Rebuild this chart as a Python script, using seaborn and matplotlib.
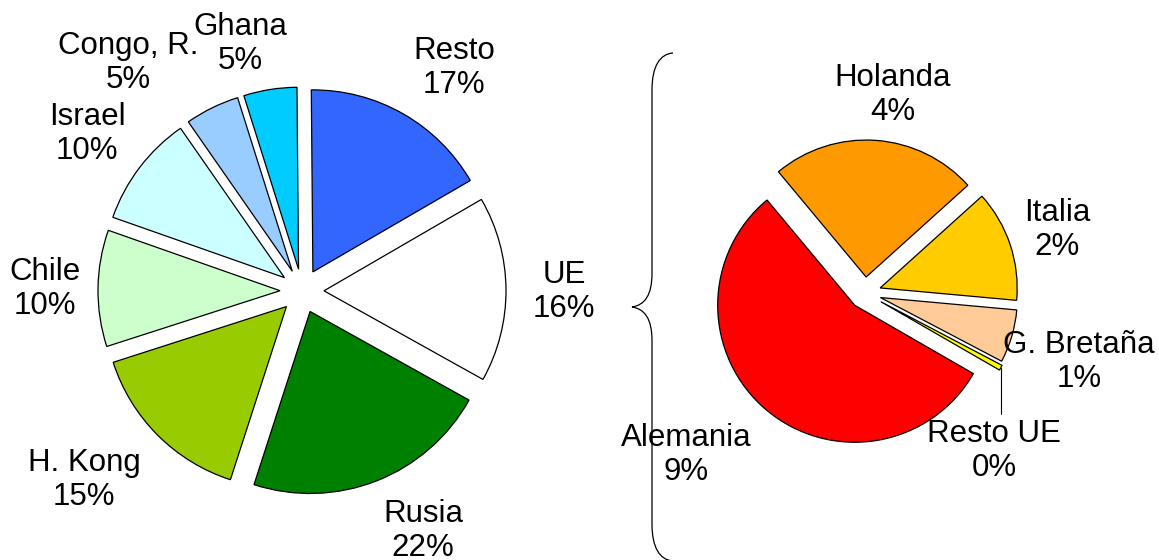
import matplotlib
matplotlib.use("Agg")
import numpy as np
import matplotlib.pyplot as plt
from matplotlib.path import Path
from matplotlib.patches import PathPatch
import seaborn as sns


# destination of exports, share of total (%)
dest_names = ["Resto", "UE", "Rusia", "H. Kong", "Chile", "Israel", "Congo, R.", "Ghana"]
dest_shares = [16.7, 16.4, 21.8, 15.0, 10.3, 9.9, 4.8, 4.7]
dest_colors = ["#3366FF", "#FFFFFF", "#008000", "#99CC00", "#CCFFCC", "#CCFFFF", "#99CCFF", "#00CCFF"]

# breakdown of the UE slice, share of total (%)
eu_names = ["Italia", "Holanda", "Alemania", "Resto UE", "G. Bretaña"]
eu_shares = [2.1, 3.9, 8.9, 0.1, 1.0]
eu_colors = ["#FFCC00", "#FF9900", "#FF0000", "#FFFF00", "#FFCC99"]

W, H = 1159, 560

# label centres, pixels from the top-left corner
dest_label_pos = [(454, 68), (564, 292), (423, 531), (84, 480), (45, 289), (87, 134), (128, 63), (240, 44)]
eu_label_pos = [(1057, 230), (893, 95), (686, 455), (994, 451), (1079, 362)]


def add_labels(ax, names, shares, positions):
    for name, share, (x, y) in zip(names, shares, positions):
        ax.text(x, H - y, f"{name}\n{share:.0f}%", ha="center", va="center",
                multialignment="center", fontsize=22.5, color="black", linespacing=1.2)


sns.set_theme(style="white")
plt.rcParams["font.family"] = ["Liberation Sans", "DejaVu Sans"]

fig = plt.figure(figsize=(W / 100, H / 100), dpi=100)
ax = fig.add_axes([0, 0, 1, 1])

wedge_style = dict(edgecolor="black", linewidth=0.9)

# pie explode is in data units here (axes are in pixels)
ax.pie(dest_shares, colors=dest_colors, explode=[22] * len(dest_shares),
       startangle=90.5, counterclock=False, center=(302, H - 291), radius=182,
       wedgeprops=wedge_style, frame=True)

eu_wedges, _ = ax.pie(eu_shares, colors=eu_colors, explode=[16, 16, 16, 18, 16],
                      startangle=-5.2, counterclock=True, center=(865, H - 293), radius=137,
                      wedgeprops=wedge_style, frame=True)

add_labels(ax, dest_names, dest_shares, dest_label_pos)
add_labels(ax, eu_names, eu_shares, eu_label_pos)

# leader line for the tiny "Resto UE" slice
w = eu_wedges[3]
mid = np.radians((w.theta1 + w.theta2) / 2)
tip_x = w.center[0] + w.r * np.cos(mid)
tip_y = w.center[1] + w.r * np.sin(mid)
ax.plot([tip_x, tip_x], [tip_y, H - 414], color="black", linewidth=0.8)

# curly brace linking UE with its breakdown
brace = [(673, 53), (660, 54), (652, 66), (652, 90),
         (652, 273),
         (652, 295), (645, 305), (632, 307),
         (645, 309), (652, 319), (652, 341),
         (652, 524),
         (652, 548), (660, 560), (673, 561)]
codes = ([Path.MOVETO] + [Path.CURVE4] * 3 + [Path.LINETO] + [Path.CURVE4] * 6
         + [Path.LINETO] + [Path.CURVE4] * 3)
ax.add_patch(PathPatch(Path([(x, H - y) for x, y in brace], codes),
                       fill=False, edgecolor="black", linewidth=0.9, clip_on=False))

ax.set_xlim(0, W)
ax.set_ylim(0, H)
ax.set_aspect("equal")
ax.axis("off")

fig.savefig("out.png", dpi=100, facecolor="white")
